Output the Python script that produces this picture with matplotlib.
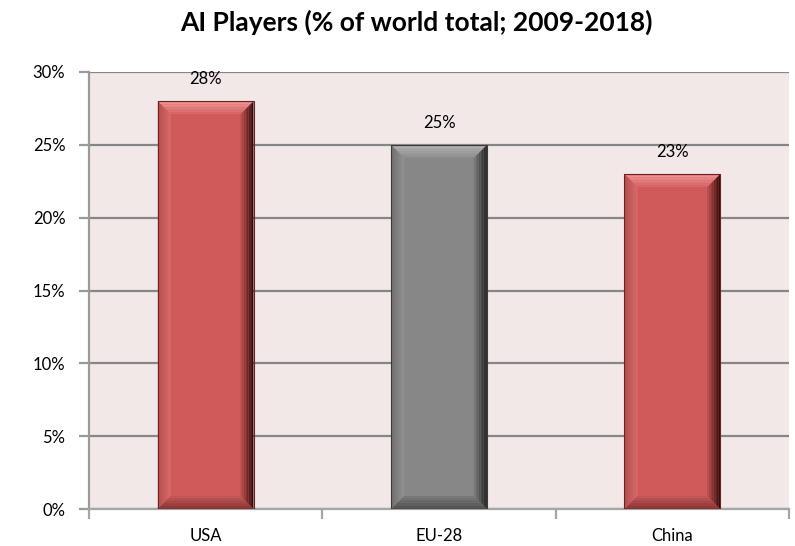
import numpy as np
import matplotlib
matplotlib.use("Agg")
import matplotlib.pyplot as plt
from matplotlib.patches import Polygon
from matplotlib.ticker import FuncFormatter, FixedLocator

# Share of world AI players, 2009-2018 (%)
regions = ["USA", "EU-28", "China"]
shares = [28, 25, 23]
value_labels = ["28%", "25%", "23%"]

plt.rcParams["font.family"] = ["Lato", "DejaVu Sans"]

W, H, DPI = 795, 546, 100
fig = plt.figure(figsize=(W / DPI, H / DPI), dpi=DPI)
fig.patch.set_facecolor("white")

# plot area in pixel terms
left_px, right_px, top_px, bottom_px = 89, 789, 72, 509
ax = fig.add_axes([left_px / W, 1 - bottom_px / H,
                   (right_px - left_px) / W, (bottom_px - top_px) / H])
ax.set_facecolor("#F2E8E8")

x = np.arange(len(regions))
bar_w = 0.41

red = dict(main="#D05A5A", top=("#F39A9A", "#D66666"), left=("#B24C4C", "#DA6C6C"),
           right=("#2A0707", "#C25252"), bottom=("#7C2E2E", "#C45858"), edge="#6A2222")
grey = dict(main="#878787", top=("#B8B8B8", "#8E8E8E"), left=("#6C6C6C", "#939393"),
            right=("#1C1C1C", "#7E7E7E"), bottom=("#484848", "#7A7A7A"), edge="#3A3A3A")
palettes = [red, grey, red]

bars = ax.bar(x, shares, width=bar_w, color=[p["main"] for p in palettes],
              zorder=3, linewidth=0)

ax.set_xlim(-0.5, len(regions) - 0.5)
ax.set_ylim(0, 30)

# gridlines
ax.yaxis.set_major_locator(FixedLocator([0, 5, 10, 15, 20, 25, 30]))
ax.yaxis.set_major_formatter(FuncFormatter(lambda v, _: f"{v:.0f}%"))
ax.grid(axis="y", color="#868686", linewidth=1.6, zorder=1)
ax.set_axisbelow(True)

for s in ["top", "right"]:
    ax.spines[s].set_visible(False)
ax.spines["left"].set_color("#9A9A9A")
ax.spines["left"].set_linewidth(1.6)
ax.spines["bottom"].set_color("#A6A6A6")
ax.spines["bottom"].set_linewidth(1.6)

# category labels centred under bars, tick marks at category boundaries
ax.set_xticks(x)
ax.set_xticklabels(regions, fontsize=12)
ax.set_xticks(np.arange(-0.5, len(regions)), minor=True)
ax.tick_params(axis="x", which="major", length=0, pad=14)
ax.tick_params(axis="x", which="minor", length=7, width=1.6, color="#A6A6A6")
ax.tick_params(axis="y", length=7, width=1.6, color="#9A9A9A", labelsize=12, pad=10)

# bevelled bar faces
to_disp = ax.transData
to_data = ax.transData.inverted()
bevel = 13
nstrip = 8


def mix(c0, c1, t):
    a = np.array(matplotlib.colors.to_rgb(c0))
    b = np.array(matplotlib.colors.to_rgb(c1))
    return tuple(a + (b - a) * t)


for rect, pal in zip(bars, palettes):
    (x0, y0) = to_disp.transform((rect.get_x(), 0))
    (x1, y1) = to_disp.transform((rect.get_x() + rect.get_width(), rect.get_height()))
    for k in range(nstrip):
        a = bevel * k / nstrip
        b = bevel * (k + 1) / nstrip
        t = (k + 0.5) / nstrip
        sides = {
            "top": [(x0 + a, y1 - a), (x1 - a, y1 - a), (x1 - b, y1 - b), (x0 + b, y1 - b)],
            "bottom": [(x0 + a, y0 + a), (x1 - a, y0 + a), (x1 - b, y0 + b), (x0 + b, y0 + b)],
            "left": [(x0 + a, y0 + a), (x0 + a, y1 - a), (x0 + b, y1 - b), (x0 + b, y0 + b)],
            "right": [(x1 - a, y0 + a), (x1 - a, y1 - a), (x1 - b, y1 - b), (x1 - b, y0 + b)],
        }
        for name in ["left", "right", "top", "bottom"]:
            c0, c1 = pal[name]
            pts = to_data.transform(sides[name])
            ax.add_patch(Polygon(pts, closed=True, facecolor=mix(c0, c1, t),
                                 edgecolor="none", zorder=4))
    ax.add_patch(Polygon(to_data.transform([(x0, y0), (x0, y1), (x1, y1), (x1, y0)]),
                         closed=True, facecolor="none", edgecolor=pal["edge"],
                         linewidth=0.8, zorder=5))

# value labels above each bar
for xi, v, lab in zip(x, shares, value_labels):
    ax.annotate(lab, (xi, v), xytext=(0, 16), textcoords="offset points",
                ha="center", va="center", fontsize=12, color="black", zorder=6)

fig.text(416 / W, 1 - 22 / H, "AI Players (% of world total; 2009-2018)",
         ha="center", va="center", fontsize=19, fontweight="bold")

fig.savefig("out.png", dpi=DPI)
